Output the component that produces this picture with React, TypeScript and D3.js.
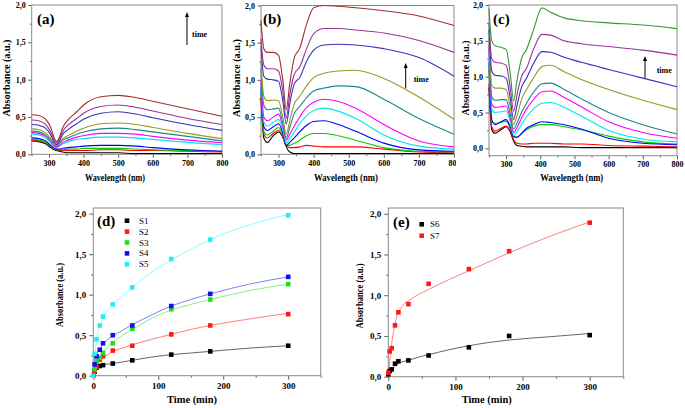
import { useEffect, useRef } from "react"
import * as d3 from "d3"

const serif = "'Liberation Serif', 'Times New Roman', serif"
const frameColor = "#8a8a8a"

// colours of the spectra, lowest curve first
const colorsA = ["#000000", "#ff0000", "#00cc00", "#0000ff", "#00e5ee", "#ff00ff", "#1a8a8a", "#999922", "#3333bb", "#993399", "#a03030"]
const colorsB = colorsA
const colorsC = ["#000000", "#ff0000", "#00cc00", "#0000ff", "#00e5ee", "#ff00ff", "#1a8a8a", "#999922", "#3333bb", "#993399", "#339933"]

// (a) absorbance read at these wavelengths
const wavelengthsA = [250, 270, 290, 305, 315, 322, 330, 340, 355, 380, 400, 450, 500, 550, 600, 700, 800]
const spectraA = [
	[0.18, 0.17, 0.14, 0.09, 0.06, 0.05, 0.04, 0.03, 0.02, 0.02, 0.02, 0.02, 0.02, 0.01, 0.01, 0.01, 0.01],
	[0.19, 0.18, 0.15, 0.1, 0.07, 0.06, 0.05, 0.05, 0.05, 0.05, 0.05, 0.06, 0.06, 0.05, 0.05, 0.04, 0.03],
	[0.2, 0.19, 0.16, 0.11, 0.07, 0.06, 0.06, 0.06, 0.07, 0.07, 0.08, 0.08, 0.08, 0.07, 0.06, 0.05, 0.04],
	[0.22, 0.21, 0.18, 0.12, 0.08, 0.07, 0.07, 0.08, 0.09, 0.1, 0.11, 0.12, 0.12, 0.11, 0.09, 0.06, 0.04],
	[0.27, 0.26, 0.22, 0.16, 0.1, 0.09, 0.11, 0.14, 0.17, 0.2, 0.21, 0.23, 0.23, 0.22, 0.2, 0.16, 0.13],
	[0.29, 0.28, 0.24, 0.17, 0.11, 0.1, 0.12, 0.16, 0.19, 0.23, 0.25, 0.28, 0.28, 0.27, 0.24, 0.19, 0.155],
	[0.31, 0.3, 0.26, 0.19, 0.13, 0.11, 0.14, 0.19, 0.22, 0.27, 0.3, 0.34, 0.35, 0.33, 0.3, 0.24, 0.18],
	[0.34, 0.33, 0.29, 0.21, 0.14, 0.12, 0.15, 0.21, 0.25, 0.31, 0.35, 0.41, 0.42, 0.4, 0.36, 0.28, 0.21],
	[0.4, 0.39, 0.35, 0.26, 0.16, 0.13, 0.17, 0.27, 0.33, 0.41, 0.47, 0.55, 0.57, 0.54, 0.49, 0.4, 0.32],
	[0.46, 0.45, 0.4, 0.3, 0.19, 0.15, 0.2, 0.31, 0.39, 0.48, 0.55, 0.64, 0.66, 0.63, 0.58, 0.48, 0.4],
	[0.53, 0.52, 0.47, 0.36, 0.22, 0.17, 0.23, 0.36, 0.46, 0.57, 0.66, 0.77, 0.79, 0.76, 0.71, 0.61, 0.51],
]

// (b)
const wavelengthsB = [250, 258, 268, 285, 300, 312, 322, 332, 345, 360, 380, 400, 430, 470, 520, 600, 700, 800]
const spectraB = [
	[0.75, 0.22, 0.16, 0.25, 0.3, 0.23, 0.1, 0.03, 0.01, 0.01, 0.01, 0.01, 0.01, 0.01, 0.01, 0.01, 0.01, 0.01],
	[0.8, 0.27, 0.22, 0.28, 0.32, 0.24, 0.12, 0.09, 0.09, 0.1, 0.12, 0.11, 0.1, 0.1, 0.1, 0.07, 0.03, 0.02],
	[0.85, 0.31, 0.26, 0.31, 0.36, 0.26, 0.12, 0.12, 0.15, 0.19, 0.25, 0.28, 0.28, 0.25, 0.19, 0.09, 0.04, 0.03],
	[0.9, 0.37, 0.32, 0.37, 0.41, 0.29, 0.12, 0.16, 0.22, 0.3, 0.39, 0.44, 0.45, 0.4, 0.31, 0.15, 0.06, 0.04],
	[0.95, 0.43, 0.38, 0.43, 0.47, 0.33, 0.15, 0.21, 0.3, 0.41, 0.52, 0.59, 0.62, 0.58, 0.48, 0.26, 0.11, 0.07],
	[1.0, 0.5, 0.45, 0.5, 0.54, 0.38, 0.19, 0.27, 0.38, 0.5, 0.63, 0.7, 0.74, 0.71, 0.62, 0.4, 0.18, 0.1],
	[1.15, 0.66, 0.6, 0.61, 0.62, 0.42, 0.22, 0.36, 0.55, 0.64, 0.76, 0.85, 0.89, 0.92, 0.91, 0.74, 0.48, 0.27],
	[1.25, 0.78, 0.72, 0.73, 0.72, 0.5, 0.27, 0.45, 0.68, 0.78, 0.92, 1.03, 1.09, 1.12, 1.13, 1.02, 0.77, 0.47],
	[1.45, 1.05, 1.01, 1.0, 0.98, 0.72, 0.41, 0.68, 0.95, 1.03, 1.25, 1.4, 1.47, 1.48, 1.47, 1.42, 1.3, 1.05],
	[1.55, 1.2, 1.15, 1.15, 1.12, 0.85, 0.49, 0.8, 1.08, 1.17, 1.42, 1.62, 1.69, 1.69, 1.67, 1.63, 1.53, 1.37],
	[1.8, 1.42, 1.37, 1.37, 1.33, 1.0, 0.6, 0.95, 1.3, 1.42, 1.75, 1.97, 2.0, 1.99, 1.97, 1.93, 1.86, 1.73],
]

// (c)
const wavelengthsC = [250, 258, 268, 285, 300, 312, 322, 332, 345, 360, 380, 405, 430, 470, 520, 600, 700, 800]
const spectraC = [
	[0.85, 0.26, 0.21, 0.26, 0.3, 0.23, 0.1, 0.04, 0.03, 0.02, 0.02, 0.02, 0.02, 0.02, 0.01, 0.01, 0.01, 0.01],
	[0.9, 0.3, 0.24, 0.28, 0.31, 0.24, 0.12, 0.07, 0.06, 0.06, 0.07, 0.07, 0.07, 0.06, 0.06, 0.04, 0.03, 0.02],
	[1.1, 0.38, 0.35, 0.36, 0.38, 0.28, 0.17, 0.16, 0.2, 0.26, 0.31, 0.33, 0.33, 0.3, 0.26, 0.17, 0.09, 0.06],
	[1.2, 0.4, 0.33, 0.37, 0.4, 0.3, 0.16, 0.15, 0.21, 0.28, 0.33, 0.37, 0.36, 0.33, 0.27, 0.14, 0.07, 0.05],
	[1.3, 0.55, 0.5, 0.51, 0.52, 0.37, 0.18, 0.23, 0.33, 0.44, 0.55, 0.63, 0.64, 0.57, 0.45, 0.25, 0.13, 0.09],
	[1.4, 0.62, 0.57, 0.58, 0.59, 0.42, 0.22, 0.29, 0.42, 0.55, 0.68, 0.79, 0.8, 0.71, 0.58, 0.37, 0.22, 0.14],
	[1.45, 0.72, 0.67, 0.68, 0.68, 0.48, 0.27, 0.35, 0.5, 0.63, 0.78, 0.9, 0.91, 0.82, 0.69, 0.5, 0.33, 0.2],
	[1.55, 0.88, 0.84, 0.84, 0.82, 0.58, 0.33, 0.45, 0.68, 0.82, 0.98, 1.14, 1.16, 1.07, 0.96, 0.82, 0.67, 0.54],
	[1.65, 1.08, 1.02, 1.01, 0.98, 0.7, 0.4, 0.6, 0.85, 0.98, 1.18, 1.35, 1.34, 1.27, 1.2, 1.1, 0.98, 0.86],
	[1.75, 1.25, 1.2, 1.19, 1.16, 0.85, 0.52, 0.75, 1.0, 1.12, 1.38, 1.59, 1.58, 1.5, 1.46, 1.42, 1.37, 1.3],
	[1.95, 1.5, 1.43, 1.41, 1.38, 1.05, 0.66, 0.95, 1.25, 1.38, 1.65, 1.96, 1.9, 1.82, 1.78, 1.75, 1.72, 1.67],
]

// (d) and (e): absorbance against time
const times = [0, 2, 5, 10, 15, 30, 60, 120, 180, 300]
const s1 = [0, 0.05, 0.1, 0.12, 0.13, 0.15, 0.19, 0.26, 0.3, 0.37]
const s2 = [0, 0.06, 0.11, 0.2, 0.24, 0.31, 0.37, 0.51, 0.62, 0.76]
const s3 = [0, 0.08, 0.18, 0.22, 0.28, 0.4, 0.58, 0.82, 0.94, 1.13]
const s4 = [0, 0.14, 0.24, 0.32, 0.4, 0.5, 0.62, 0.86, 1.01, 1.22]
const s5 = [0, 0.27, 0.45, 0.62, 0.73, 0.88, 1.09, 1.44, 1.68, 1.98]
const s6 = [0.03, 0.07, 0.09, 0.16, 0.19, 0.2, 0.26, 0.36, 0.5, 0.51]
const s7 = [0.05, 0.31, 0.35, 0.63, 0.79, 0.89, 1.14, 1.32, 1.54, 1.89]

// fitted curves
const fitTimes = [0, 5, 10, 20, 30, 45, 60, 90, 120, 150, 180, 240, 300]
const s1Fit = [0, 0.1, 0.12, 0.14, 0.15, 0.17, 0.19, 0.23, 0.26, 0.28, 0.3, 0.34, 0.37]
const s2Fit = [0, 0.12, 0.18, 0.25, 0.3, 0.34, 0.38, 0.45, 0.51, 0.57, 0.62, 0.7, 0.77]
const s3Fit = [0, 0.17, 0.23, 0.33, 0.41, 0.5, 0.57, 0.71, 0.81, 0.88, 0.94, 1.05, 1.13]
const s4Fit = [0, 0.25, 0.33, 0.43, 0.49, 0.56, 0.63, 0.75, 0.86, 0.94, 1.01, 1.13, 1.22]
const s5Fit = [0, 0.45, 0.6, 0.78, 0.88, 0.98, 1.09, 1.28, 1.43, 1.56, 1.68, 1.86, 1.99]
const s6Fit = [0, 0.08, 0.13, 0.18, 0.2, 0.24, 0.27, 0.33, 0.38, 0.42, 0.45, 0.49, 0.53]
const s7Fit = [0, 0.4, 0.65, 0.86, 0.93, 1.01, 1.07, 1.19, 1.3, 1.41, 1.52, 1.72, 1.9]

const seriesD = ["S1", "S2", "S3", "S4", "S5"]
const seriesE = ["S6", "S7"]

const comma = (v) => d3.format(".1f")(v).replace(".", ",")

function drawAxes(g, x, y, o) {
	const [x0, x1] = x.range()
	const [y0, y1] = y.range()

	const bottom = g.append("g").attr("transform", `translate(0,${y0})`)
	bottom.call(d3.axisBottom(x).tickValues(o.xMinor).tickSize(o.tick / 2).tickFormat(() => ""))
	bottom
		.append("g")
		.call(
			d3.axisBottom(x).tickValues(o.xMajor).tickSize(o.tick).tickPadding(o.pad).tickFormat(d3.format("d"))
		)

	const left = g.append("g").attr("transform", `translate(${x0},0)`)
	left.call(d3.axisLeft(y).tickValues(o.yMinor).tickSize(o.tick / 2).tickFormat(() => ""))
	left
		.append("g")
		.call(d3.axisLeft(y).tickValues(o.yMajor).tickSize(o.tick).tickPadding(o.pad).tickFormat(comma))

	g.selectAll(".domain").remove()
	g.selectAll(".tick line").attr("stroke", "#333").attr("stroke-width", 0.8)
	g.selectAll(".tick text")
		.attr("font-family", serif)
		.attr("font-weight", "bold")
		.attr("font-size", o.fs)
		.attr("fill", "#000")

	g.append("rect")
		.attr("x", x0)
		.attr("y", y1)
		.attr("width", x1 - x0)
		.attr("height", y0 - y1)
		.attr("fill", "none")
		.attr("stroke", frameColor)
		.attr("stroke-width", 1)

	g.append("text")
		.attr("x", o.xTitle[0])
		.attr("y", o.xTitle[1])
		.attr("text-anchor", "middle")
		.attr("font-family", serif)
		.attr("font-weight", "bold")
		.attr("font-size", o.titleSize)
		.attr("textLength", o.xTitle[2])
		.attr("lengthAdjust", "spacingAndGlyphs")
		.text(o.xLabel)

	g.append("text")
		.attr("transform", `translate(${o.yTitle[0]},${o.yTitle[1]}) rotate(-90)`)
		.attr("text-anchor", "middle")
		.attr("font-family", serif)
		.attr("font-weight", "bold")
		.attr("font-size", o.yTitleSize)
		.attr("textLength", o.yTitle[2])
		.attr("lengthAdjust", "spacingAndGlyphs")
		.text("Absorbance (a.u.)")

	g.append("text")
		.attr("x", o.tag[0])
		.attr("y", o.tag[1])
		.attr("font-family", serif)
		.attr("font-weight", "bold")
		.attr("font-size", o.tagSize)
		.text(o.tagText)
}

function drawSpectra(svg, p) {
	const g = svg.append("g")
	if (p.clip) g.attr("clip-path", `url(#${p.clip})`)

	const x = d3.scaleLinear().domain([250, 800]).range([p.left, p.right])
	const y = d3.scaleLinear().domain(p.yDomain).range([p.bottom, p.top])

	drawAxes(g, x, y, {
		xMajor: [300, 400, 500, 600, 700, 800],
		xMinor: [250, 350, 450, 550, 650, 750],
		yMajor: [0, 0.5, 1, 1.5, 2],
		yMinor: [0.25, 0.75, 1.25, 1.75],
		tick: 3.5,
		pad: 2.5,
		fs: 8,
		titleSize: 9.5,
		yTitleSize: 9.5,
		xLabel: "Wavelength (nm)",
		xTitle: p.xTitle,
		yTitle: p.yTitle,
		tag: p.tag,
		tagSize: 15,
		tagText: p.tagText,
	})

	const line = d3
		.line()
		.x((d) => x(d[0]))
		.y((d) => y(d[1]))
		.curve(d3.curveMonotoneX)

	const plot = g.append("g")
	p.spectra.forEach((values, i) => {
		plot
			.append("path")
			.attr("d", line(values.map((v, j) => [p.wavelengths[j], v])))
			.attr("fill", "none")
			.attr("stroke", p.colors[i])
			.attr("stroke-width", 1.1)
	})

	g.append("line")
		.attr("x1", p.arrow[0])
		.attr("x2", p.arrow[0])
		.attr("y1", p.arrow[2])
		.attr("y2", p.arrow[1] + 3)
		.attr("stroke", "#000")
		.attr("stroke-width", 1)
	g.append("path")
		.attr("d", `M${p.arrow[0] - 2},${p.arrow[1] + 5}L${p.arrow[0]},${p.arrow[1]}L${p.arrow[0] + 2},${p.arrow[1] + 5}Z`)
		.attr("fill", "#000")
	g.append("text")
		.attr("x", p.timeLabel[0])
		.attr("y", p.timeLabel[1])
		.attr("font-family", serif)
		.attr("font-weight", "bold")
		.attr("font-size", 8)
		.text("time")
}

function drawKinetics(svg, p) {
	const g = svg.append("g")
	const x = d3.scaleLinear().domain([0, 350]).range([p.left, p.right])
	const y = d3.scaleLinear().domain([0, 2.07]).range([p.bottom, p.top])

	drawAxes(g, x, y, {
		xMajor: [0, 100, 200, 300],
		xMinor: [50, 150, 250, 350],
		yMajor: [0, 0.5, 1, 1.5, 2],
		yMinor: [0.25, 0.75, 1.25, 1.75],
		tick: 4,
		pad: 3,
		fs: 9,
		titleSize: 10.5,
		yTitleSize: 11,
		xLabel: "Time (min)",
		xTitle: p.xTitle,
		yTitle: p.yTitle,
		tag: p.tag,
		tagSize: 15,
		tagText: p.tagText,
	})

	const line = d3
		.line()
		.x((d) => x(d[0]))
		.y((d) => y(d[1]))
		.curve(d3.curveMonotoneX)

	p.fits.forEach((values, i) => {
		g.append("path")
			.attr("d", line(values.map((v, j) => [fitTimes[j], v])))
			.attr("fill", "none")
			.attr("stroke", p.fitColors[i])
			.attr("stroke-width", 0.9)
	})

	const size = 4.6
	p.series.forEach((values, i) => {
		g.append("g")
			.selectAll("rect")
			.data(values.map((v, j) => [times[j], v]))
			.enter()
			.append("rect")
			.attr("x", (d) => x(d[0]) - size / 2)
			.attr("y", (d) => y(d[1]) - size / 2)
			.attr("width", size)
			.attr("height", size)
			.attr("fill", p.colors[i])
	})

	const legend = g.append("g")
	p.names.forEach((name, i) => {
		const cy = p.legend[1] + i * p.legend[3]
		legend
			.append("rect")
			.attr("x", p.legend[0] - size / 2)
			.attr("y", cy - size / 2)
			.attr("width", size)
			.attr("height", size)
			.attr("fill", p.colors[i])
		legend
			.append("text")
			.attr("x", p.legend[2])
			.attr("y", cy + 3)
			.attr("font-family", serif)
			.attr("font-size", 9)
			.text(name)
	})
}

function App() {
	const ref = useRef(null)

	useEffect(() => {
		const svg = d3.select(ref.current)
		svg.selectAll("*").remove()

		svg.append("rect").attr("width", 685).attr("height", 408).attr("fill", "#fff")
		svg.append("defs")
			.append("clipPath")
			.attr("id", "clipB")
			.append("rect")
			.attr("x", 226)
			.attr("y", 0)
			.attr("width", 230)
			.attr("height", 200)

		drawSpectra(svg, {
			left: 31.7, right: 222, top: 5, bottom: 154.3, yDomain: [0, 2],
			wavelengths: wavelengthsA, spectra: spectraA, colors: colorsA,
			xTitle: [115, 180.5, 60], yTitle: [10, 78, 77], tag: [37, 23.5], tagText: "(a)",
			arrow: [187, 12, 45], timeLabel: [192, 36.5],
		})
		drawSpectra(svg, {
			left: 261, right: 454, top: 5.5, bottom: 154.3, yDomain: [0, 2],
			wavelengths: wavelengthsB, spectra: spectraB, colors: colorsB, clip: "clipB",
			xTitle: [346, 180.5, 64], yTitle: [239.5, 78, 78], tag: [263, 23.5], tagText: "(b)",
			arrow: [405.7, 63, 88.3], timeLabel: [413.7, 82],
		})
		drawSpectra(svg, {
			left: 489, right: 677, top: 5, bottom: 155.7, yDomain: [-0.103, 2],
			wavelengths: wavelengthsC, spectra: spectraC, colors: colorsC,
			xTitle: [571.7, 180.5, 63], yTitle: [469, 78, 75], tag: [493, 23.5], tagText: "(c)",
			arrow: [645, 56, 78.3], timeLabel: [656.7, 72.5],
		})

		drawKinetics(svg, {
			left: 93.3, right: 320.7, top: 208, bottom: 375.7,
			series: [s1, s2, s3, s4, s5],
			fits: [s1Fit, s2Fit, s3Fit, s4Fit, s5Fit],
			names: seriesD,
			colors: ["#000000", "#ff1a1a", "#22dd22", "#1010ee", "#22eeee"],
			fitColors: ["#555555", "#ff7070", "#77ee77", "#7070ff", "#77ffff"],
			xTitle: [192, 403, 50], yTitle: [62.5, 295, 64], tag: [97, 226], tagText: "(d)",
			legend: [127, 220.7, 139, 10.9],
		})
		drawKinetics(svg, {
			left: 388.3, right: 623.3, top: 208, bottom: 376.7,
			series: [s6, s7],
			fits: [s6Fit, s7Fit],
			names: seriesE,
			colors: ["#000000", "#ff1a1a"],
			fitColors: ["#555555", "#ff7070"],
			xTitle: [486.7, 403, 50], yTitle: [362.5, 296, 65], tag: [393, 227], tagText: "(e)",
			legend: [421.7, 224.3, 430, 11.4],
		})
	}, [])

	return (
		<svg
			ref={ref}
			width={685}
			height={408}
			style={{ position: "absolute", left: 0, top: 0 }}
		></svg>
	)
}

export default App
